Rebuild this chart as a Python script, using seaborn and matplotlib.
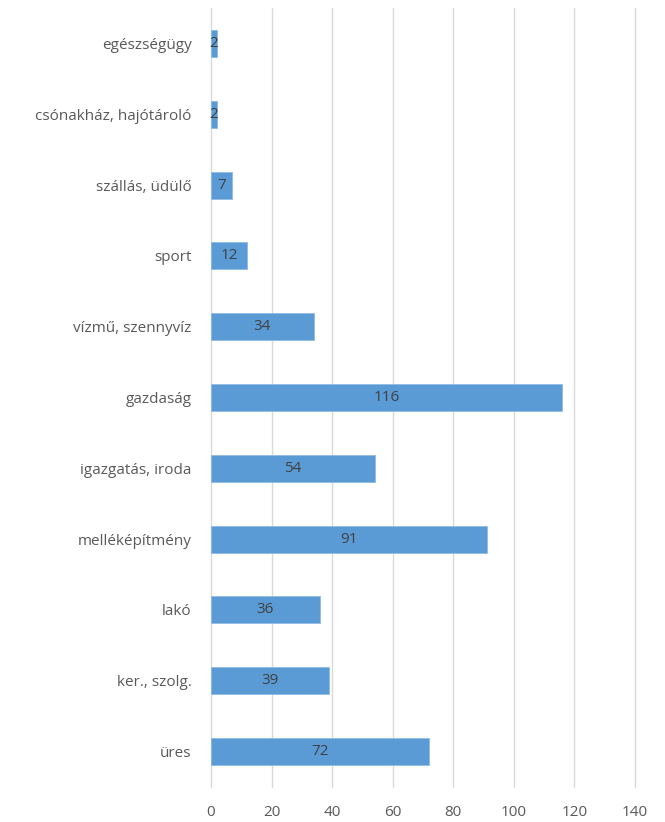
import matplotlib
matplotlib.use("Agg")
import matplotlib.pyplot as plt
import seaborn as sns
import pandas as pd

categories = ["egészségügy", "csónakház, hajótároló", "szállás, üdülő", "sport",
              "vízmű, szennyvíz", "gazdaság", "igazgatás, iroda", "melléképítmény",
              "lakó", "ker., szolg.", "üres"]
values = [2, 2, 7, 12, 34, 116, 54, 91, 36, 39, 72]
xticks = [0, 20, 40, 60, 80, 100, 120, 140]

sns.set_theme(style="white")
plt.rcParams['font.family'] = ['Open Sans', 'DejaVu Sans']

df = pd.DataFrame({"cat": categories, "val": values})

fig = plt.figure(figsize=(6.65, 8.22), dpi=100)
ax = fig.add_axes([211/665, 1-787/822, (635-211)/665, (787-8)/822])

sns.barplot(data=df, y="cat", x="val", orient="h", color="#5B9BD5",
            width=0.38, ax=ax, saturation=1, edgecolor="#8FBBE3", linewidth=0.6)

for i, v in enumerate(values):
    ax.text(v / 2, i, str(v), ha="center", va="center", fontsize=11, color="#404040")

ax.set_xlim(0, 140)
ax.set_ylim(len(categories) - 0.5, -0.5)
ax.set_xticks(xticks)
ax.set_xticklabels([str(t) for t in xticks])
ax.xaxis.grid(True, color="#D9D9D9", linewidth=1)
for gl in ax.get_xgridlines():
    gl.set_clip_on(False)
ax.set_axisbelow(True)
for s in ax.spines.values():
    s.set_visible(False)
ax.set_xlabel("")
ax.set_ylabel("")
ax.tick_params(axis="x", colors="#595959", labelsize=11, length=0, pad=13)
ax.tick_params(axis="y", colors="#595959", labelsize=11, length=0, pad=14)

fig.savefig("out.png", dpi=100)
